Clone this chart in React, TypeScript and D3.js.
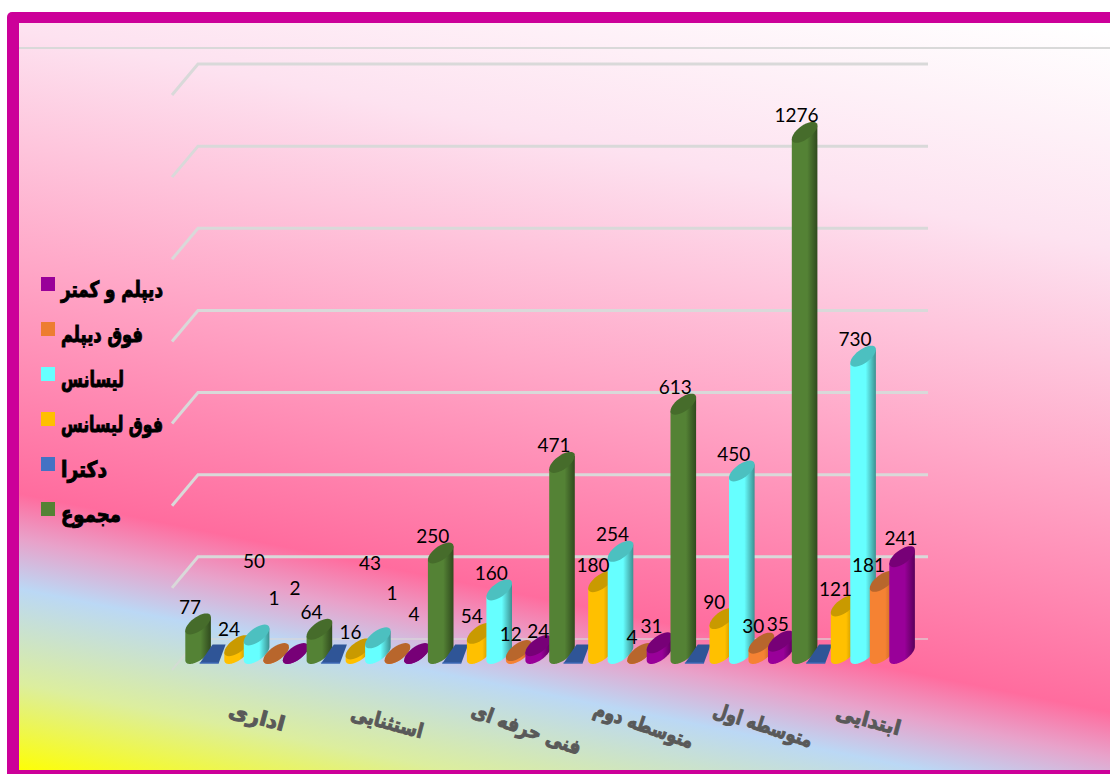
import React from "react";
import * as d3 from "d3";

const categories = ["اداری", "استثنایی", "فنی حرفه ای", "متوسطه دوم", "متوسطه اول", "ابتدایی"];
const seriesNames = ["مجموع", "دکترا", "فوق لیسانس", "لیسانس", "فوق دیپلم", "دیپلم و کمتر"];
const totalValues = [77, 64, 250, 471, 613, 1276];
const doctorateValues = [0, 0, 0, 0, 0, 0];
const mastersValues = [24, 16, 54, 180, 90, 121];
const bachelorValues = [50, 43, 160, 254, 450, 730];
const associateValues = [1, 1, 12, 4, 30, 181];
const diplomaValues = [2, 4, 24, 31, 35, 241];
const seriesValues = [totalValues, doctorateValues, mastersValues, bachelorValues, associateValues, diplomaValues];
const axisTicks = [0, 200, 400, 600, 800, 1000, 1200, 1400];

const seriesColors = ["#548235", "#4472C4", "#FFC000", "#66FFFF", "#F58233", "#990099"];
const topColors = ["#466C2B", "#2F5597", "#C99A00", "#4CC0C0", "#B8662C", "#770077"];
const edgeColors = ["#304A1E", "#2F5597", "#A88000", "#3C9090", "#B05A20", "#5A005A"];

// Hand placed data labels in the reference: "category,series" -> shift from the default spot
const labelShift: Record<string, [number, number]> = {
  "0,3": [-2.6, -64.5], "0,4": [-2, -46.6], "0,5": [-0.6, -57],
  "1,3": [-8, -64.4], "1,4": [-5.4, -51.6], "1,5": [-3, -30],
  "2,5": [0, -5], "4,5": [-3, -7], "5,4": [-14, -6], "5,5": [-1, -9],
};
const categoryLabelShift: [number, number, number, number][] = [
  [11, 717, 15, 57], [20, 722, 15, 74], [38, 729, 20, 115], [34, 725, 19, 104], [32, 725, 18, 103], [16, 720, 15, 66],
];
const legendWidths = [60, 46, 102, 63, 82, 102];

const W = 1110, H = 774;
const barW = 25.6, halfW = barW / 2, tiltH = 10.5, tilt = (50 * Math.PI) / 180;
const baseCy = 653.5, unit = 0.41;

const x0 = d3.scaleBand<string>().domain(categories).range([185.3, 185.3 + 6 * 121.3]);
const x1 = d3.scaleBand<string>().domain(seriesNames).range([0, 6 * 19.5]);
const yWall = d3.scaleLinear().domain([0, 1400]).range([639, 64]);
const yBar = d3.scaleLinear().domain([0, 1400]).range([baseCy + 2, baseCy + 2 - 1400 * unit]);
const line = d3.line<[number, number]>();

const pt = (cx: number, cy: number, t: number): [number, number] => [
  cx + halfW * Math.cos(t),
  cy - tiltH * Math.cos(t - tilt),
];
const arc = (cx: number, cy: number, a: number, b: number) =>
  d3.range(0, 37).map((i) => pt(cx, cy, a + ((b - a) * i) / 36));

const stops: [number, string][] = [
  [-190, "#FFFFFF"], [26, "#FDE2F0"], [256, "#FFA8C8"], [490, "#FF6C9E"], [535, "#E8A2CA"],
  [585, "#BBD8F5"], [680, "#DCEE9E"], [770, "#FFFF00"],
];

export default function App() {
  return (
    <svg width={W} height={H} style={{ position: "absolute", left: 0, top: 0 }}>
      <defs>
        <linearGradient id="bg" gradientUnits="userSpaceOnUse" x1={1100} y1={30} x2={915.4} y2={953}>
          {stops.map(([s, c]) => (
            <stop key={s} offset={(s + 190) / 960} stopColor={c} />
          ))}
        </linearGradient>
        {seriesColors.map((c, i) => (
          <linearGradient key={i} id={`bar${i}`} x1="0" x2="1" y1="0" y2="0">
            <stop offset="0" stopColor={c} />
            <stop offset="0.6" stopColor={c} />
            <stop offset="1" stopColor={edgeColors[i]} />
          </linearGradient>
        ))}
      </defs>
      <rect x={7} y={12} width={W} height={H} rx={5} fill="#CC0099" />
      <rect x={19} y={23} width={W} height={747} fill="url(#bg)" />
      <line x1={19} x2={W} y1={48} y2={48} stroke="#D9D9D9" strokeWidth={2} />

      {axisTicks.map((t) => {
        const y = yWall(t);
        return (
          <path
            key={t}
            d={line([[172, y + 31], [198, y], [928, y]]) as string}
            fill="none"
            stroke="#D9D9D9"
            strokeWidth={t === 0 ? 2 : 3}
            opacity={t === 0 ? 0.6 : 1}
          />
        );
      })}

      {categories.map((cat, c) =>
        seriesNames.map((name, s) => {
          const v = seriesValues[s][c];
          const cx = (x0(cat) as number) + (x1(name) as number) + halfW;
          if (v === 0) {
            const yBot = baseCy + 10, yTop = baseCy - 9;
            return (
              <g key={name + cat}>
                <path
                  d={(line([[cx - 18, yBot], [cx - 5, yTop], [cx + 8, yTop], [cx + 1, yBot]]) as string) + "Z"}
                  fill={topColors[s]}
                />
                <path d={line([[cx - 18, yBot - 0.5], [cx + 1, yBot - 0.5]]) as string} stroke={seriesColors[s]} strokeWidth={1} />
              </g>
            );
          }
          const cy = Math.min(yBar(v), baseCy);
          const body = [pt(cx, cy, Math.PI), ...arc(cx, baseCy, Math.PI, 2 * Math.PI), pt(cx, cy, 0)];
          return (
            <g key={name + cat}>
              <path d={(line(body) as string) + "Z"} fill={`url(#bar${s})`} />
              <path d={(line(arc(cx, cy, 0, 2 * Math.PI)) as string) + "Z"} fill={topColors[s]} />
            </g>
          );
        })
      )}

      {categories.map((cat, c) =>
        seriesNames.map((name, s) => {
          const v = seriesValues[s][c];
          if (v === 0) return null;
          const cx = (x0(cat) as number) + (x1(name) as number) + halfW;
          const top = yBar(v) - tiltH;
          const [dx, dy] = labelShift[`${c},${s}`] ?? [-8, -7];
          return (
            <text
              key={name + cat}
              x={cx + dx}
              y={top + dy}
              textAnchor="middle"
              dominantBaseline="central"
              fontFamily="Lato, sans-serif"
              fontSize={19}
              fill="#000"
            >
              {v}
            </text>
          );
        })
      )}

      {categories.map((cat, c) => {
        const [dx, y, rot, len] = categoryLabelShift[c];
        const x = (x0(cat) as number) + x0.bandwidth() / 2 + dx;
        return (
          <text
            key={cat}
            transform={`translate(${x},${y}) rotate(${rot})`}
            textAnchor="middle"
            dominantBaseline="central"
            fontFamily="'DejaVu Sans', sans-serif"
            fontWeight="bold"
            fontSize={20}
            fill="#595959"
            stroke="#595959"
            strokeWidth={1}
            textLength={len}
            lengthAdjust="spacingAndGlyphs"
          >
            {cat}
          </text>
        );
      })}

      {seriesNames.slice().reverse().map((name, i) => {
        const s = seriesNames.length - 1 - i;
        const y = 277 + i * 45;
        return (
          <g key={name}>
            <rect x={41} y={y} width={14} height={14} fill={s === 4 ? "#ED7D31" : seriesColors[s]} />
            <text
              x={61}
              y={y + 20}
              textAnchor="start"
              direction="ltr"
              fontFamily="'DejaVu Sans', sans-serif"
              fontWeight="bold"
              fontSize={22}
              fill="#000"
              stroke="#000"
              strokeWidth={1}
              textLength={legendWidths[s]}
              lengthAdjust="spacingAndGlyphs"
            >
              {name}
            </text>
          </g>
        );
      })}
    </svg>
  );
}
